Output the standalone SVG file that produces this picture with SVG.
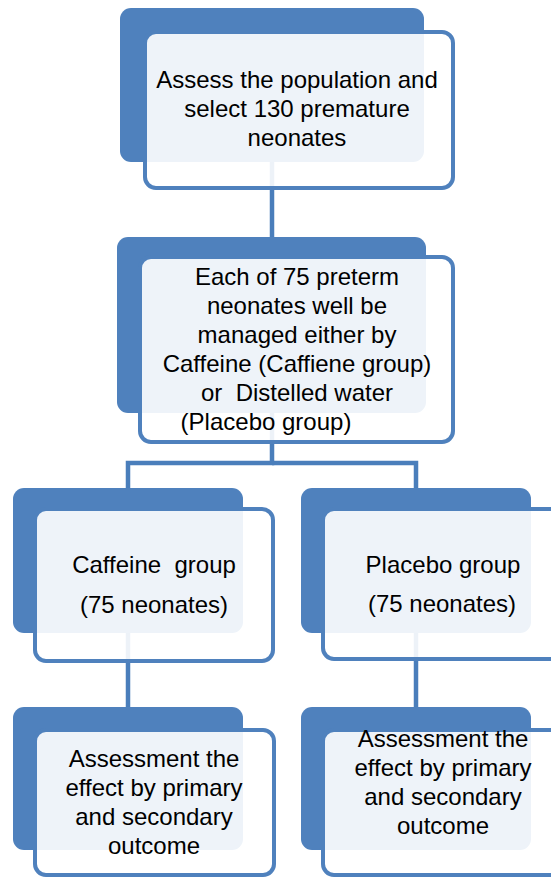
<svg xmlns="http://www.w3.org/2000/svg" width="551" height="878" viewBox="0 0 551 878">
<style>
.bg{fill:#4F81BD;}
.fg{fill:#FFFFFF;fill-opacity:0.9;stroke:#4F81BD;stroke-width:4;}
.conn{fill:none;stroke:#4A7EBB;stroke-width:4.5;}
text{font-family:"Liberation Sans",Arial,sans-serif;font-size:24px;fill:#000;text-anchor:middle;white-space:pre;}
</style>
<rect width="551" height="878" fill="#FFFFFF"/>
<g id="connectors">
<path class="conn" d="M272 150 V245"/>
<path class="conn" d="M272 400 V463 H128 V495"/>
<path class="conn" d="M272 463 H416 V495"/>
<path class="conn" d="M128 620 V715"/>
<path class="conn" d="M416 620 V715"/>
</g>
<g id="node1">
<rect class="bg" x="120" y="8" width="304" height="154" rx="11"/>
<rect class="fg" x="145" y="32" width="308" height="156" rx="11"/>
<text x="297" y="88">Assess the population and</text>
<text x="297" y="117">select 130 premature</text>
<text x="297" y="146">neonates</text>
</g>
<g id="node2">
<rect class="bg" x="117" y="237" width="309" height="176" rx="11"/>
<rect class="fg" x="140" y="257" width="313" height="185" rx="11"/>
<text x="297" y="285">Each of 75 preterm</text>
<text x="297" y="314">neonates well be</text>
<text x="297" y="343">managed either by</text>
<text x="297" y="372">Caffeine (Caffiene group)</text>
<text x="297" y="401">or  Distelled water</text>
<text x="266" y="430">(Placebo group)</text>
</g>
<g id="node3">
<rect class="bg" x="13" y="488" width="230" height="145" rx="11"/>
<rect class="fg" x="35" y="509" width="238" height="152" rx="11"/>
<text x="154" y="573">Caffeine  group</text>
<text x="154" y="613">(75 neonates)</text>
</g>
<g id="node4">
<rect class="bg" x="301" y="488" width="230" height="145" rx="11"/>
<rect class="fg" x="323" y="509" width="239" height="150" rx="11"/>
<text x="443" y="573">Placebo group</text>
<text x="442" y="612">(75 neonates)</text>
</g>
<g id="node5">
<rect class="bg" x="13" y="707" width="230" height="143" rx="11"/>
<rect class="fg" x="35" y="730" width="239" height="145" rx="11"/>
<text x="154" y="767">Assessment the</text>
<text x="154" y="796">effect by primary</text>
<text x="154" y="825">and secondary</text>
<text x="154" y="854">outcome</text>
</g>
<g id="node6">
<rect class="bg" x="301" y="707" width="230" height="143" rx="11"/>
<rect class="fg" x="323" y="730" width="239" height="145" rx="11"/>
<text x="443" y="747">Assessment the</text>
<text x="443" y="776">effect by primary</text>
<text x="443" y="805">and secondary</text>
<text x="443" y="834">outcome</text>
</g>
</svg>
